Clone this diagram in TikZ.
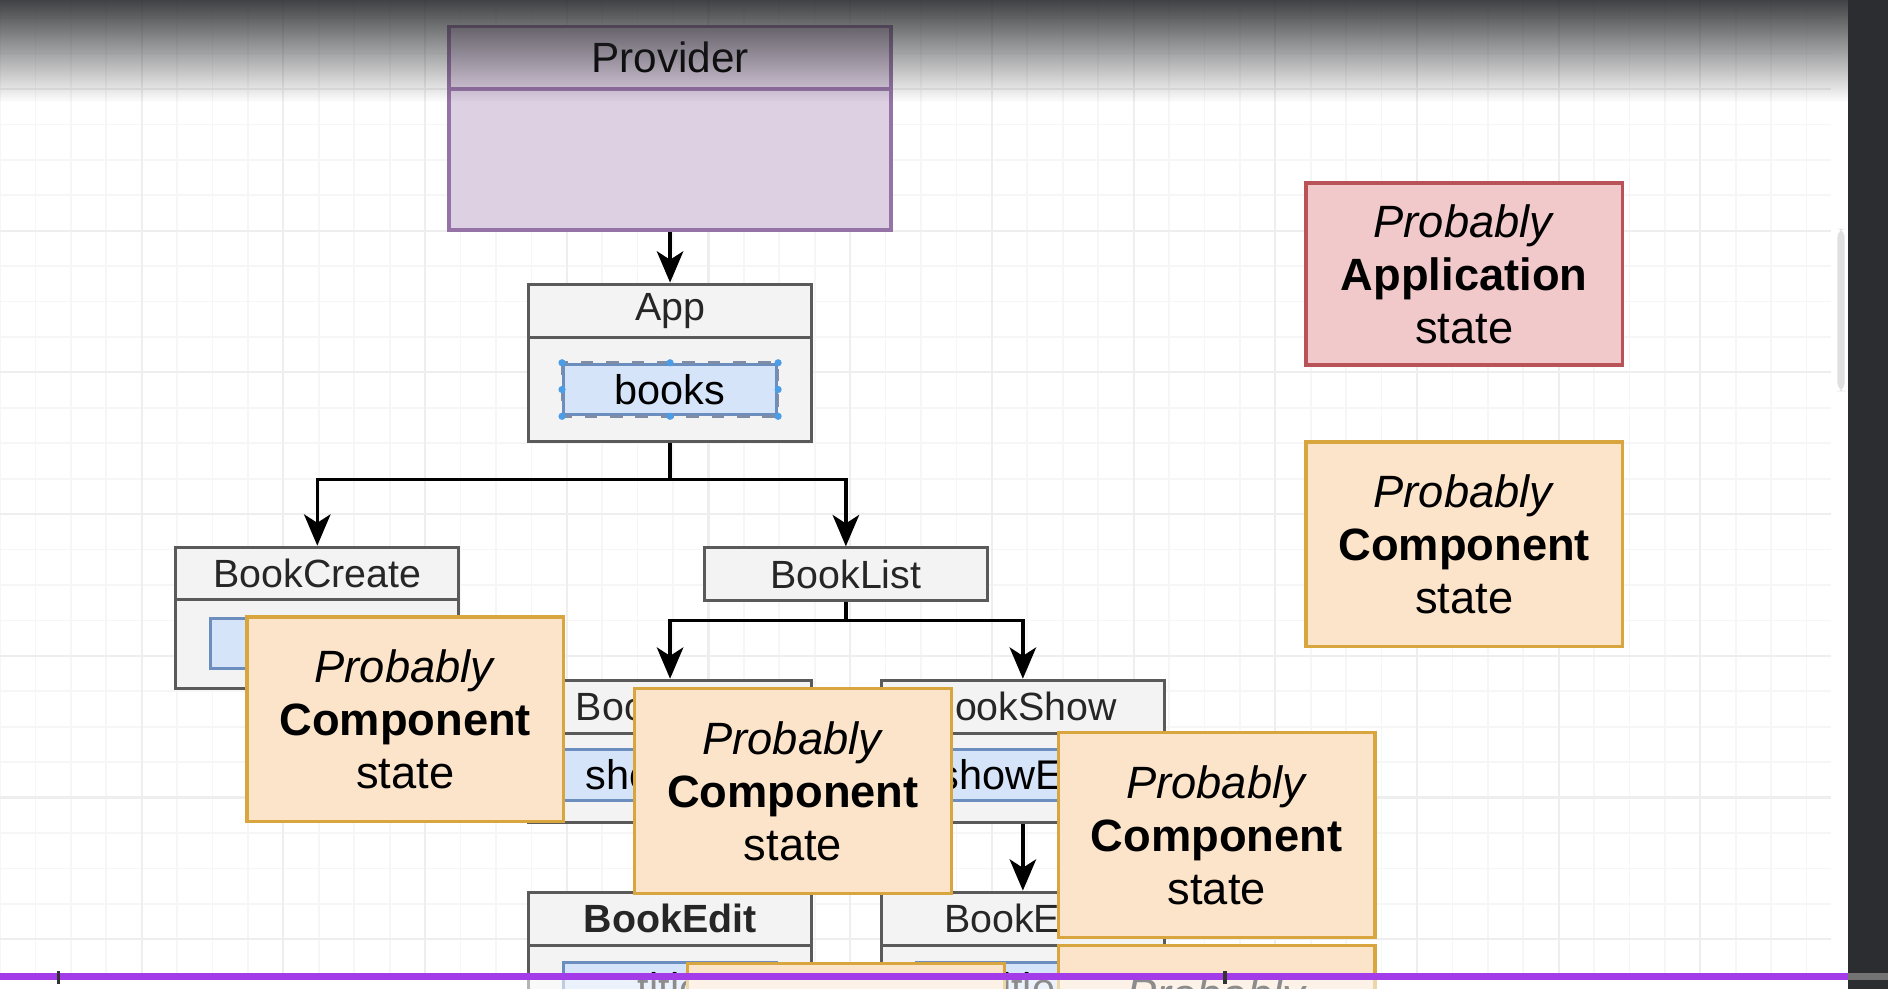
\documentclass[tikz,border=0pt]{standalone}
\usepackage{fontspec}
\setmainfont{Liberation Sans}
\usetikzlibrary{arrows.meta, fadings}

\definecolor{provfill}{HTML}{DDD0E3}
\definecolor{provline}{HTML}{9673A6}
\definecolor{compfill}{HTML}{F3F3F3}
\definecolor{compline}{HTML}{5A5A5A}
\definecolor{fieldfill}{HTML}{D6E4FA}
\definecolor{fieldline}{HTML}{6C8EBF}
\definecolor{orfill}{HTML}{FCE4CB}
\definecolor{orline}{HTML}{D9A53F}
\definecolor{redfill}{HTML}{F2C9CB}
\definecolor{redline}{HTML}{B85457}
\definecolor{gridminor}{HTML}{F6F6F6}
\definecolor{gridmajor}{HTML}{EEEEEE}
\definecolor{selblue}{HTML}{4A9DE6}
\definecolor{seldash}{HTML}{7F8CA6}
\definecolor{barpurple}{HTML}{A43BE8}
\definecolor{darkside}{HTML}{2C2D30}

\tikzfading[name=topfade, top color=transparent!10, bottom color=transparent!100]

\tikzset{
  provhead/.style={draw=provline, fill=provfill, line width=0.8pt, minimum width=36.7mm, minimum height=5.2mm, inner sep=0pt, font=\fontsize{10}{11}\selectfont},
  provbody/.style={draw=provline, fill=provfill, line width=0.8pt, minimum width=36.7mm, minimum height=11.7mm, inner sep=0pt},
  comphead/.style={draw=compline, fill=compfill, line width=0.75pt, minimum width=23.5mm, minimum height=4.4mm, inner sep=0pt, font=\fontsize{9.3}{11}\selectfont, text=black!85},
  compbody/.style={draw=compline, fill=compfill, line width=0.75pt, minimum width=23.5mm, inner sep=0pt},
  fieldbox/.style={draw=fieldline, fill=fieldfill, line width=0.7pt, minimum width=17.7mm, minimum height=4.2mm, inner sep=0pt, font=\fontsize{9.8}{11}\selectfont},
  statebox/.style={draw=orline, fill=orfill, line width=0.8pt, minimum width=26.3mm, minimum height=17mm, align=center, font=\fontsize{10.7}{12.5}\selectfont},
  appstatebox/.style={statebox, draw=redline, fill=redfill, minimum height=15.1mm},
  arr/.style={-{Stealth[length=2.6mm, width=2.2mm, inset=0.7mm]}, line width=0.8pt},
  gridthin/.style={gridminor, line width=0.4pt},
  gridthick/.style={gridmajor, line width=0.5pt}
}

\begin{document}
\begin{tikzpicture}[x=0.1mm, y=-0.1mm]
  \clip (0,0) rectangle (1568,821);
  \fill[white] (0,0) rectangle (1568,821);

  \foreach \gx in {0,...,51}
    \draw[gridthin] (29.42*\gx,0) -- (29.42*\gx,808);
  \foreach \gy in {0,...,26}
    \draw[gridthin] (0,15.1+29.42*\gy) -- (1521,15.1+29.42*\gy);
  \foreach \gx in {4,8,...,48}
    \draw[gridthick] (29.42*\gx,0) -- (29.42*\gx,808);
  \foreach \gy in {2,6,...,26}
    \draw[gridthick] (0,15.1+29.42*\gy) -- (1521,15.1+29.42*\gy);

  \fill[black!12, rounded corners=2] (1526,190) rectangle (1532,325);
  \fill[darkside] (1535,0) rectangle (1568,821);

  \node[provhead] (provider) at (556.5,48) {Provider};
  \node[provbody] (providerbody) at (556.5,132.5) {};

  \node[comphead] (app) at (556.5,258) {App};
  \node[compbody, minimum height=8.7mm] (appbody) at (556.5,323.5) {};
  \node[fieldbox] (books) at (556.5,323.5) {books};
  \draw[seldash, dashed, line width=0.6pt] (books.north west) rectangle (books.south east);
  \foreach \a in {north west, north, north east, east, south east, south, south west, west}
    \fill[selblue] (books.\a) circle (0.3mm);

  \node[comphead] (bookcreate) at (263.5,476.5) {BookCreate};
  \node[compbody, minimum height=7.4mm] (bookcreatebody) at (263.5,535) {};
  \node[fieldbox] (bookcreatefield) at (263.5,534.5) {};

  \node[comphead] (booklist) at (702.5,477) {BookList};

  \node[comphead] (showleft) at (556.5,587) {BookShow};
  \node[compbody, minimum height=7.4mm] (showleftbody) at (556.5,646) {};
  \node[fieldbox] (showleftfield) at (556.5,643.5) {showEdit};

  \node[comphead] (showright) at (849.5,587) {BookShow};
  \node[compbody, minimum height=7.4mm] (showrightbody) at (849.5,646) {};
  \node[fieldbox] (showrightfield) at (849.5,643.5) {showEdit};

  \node[comphead, font=\fontsize{9.3}{11}\selectfont\bfseries] (editleft) at (556.5,763) {BookEdit};
  \node[compbody, minimum height=9.5mm] (editleftbody) at (556.5,832.5) {};
  \node[fieldbox] (editleftfield) at (556.5,820.5) {title};

  \node[comphead] (editright) at (849.5,763) {BookEdit};
  \node[compbody, minimum height=9.5mm] (editrightbody) at (849.5,832.5) {};
  \node[fieldbox] (editrightfield) at (849.5,820.5) {title};

  \draw[arr] (providerbody) -- (app);
  \draw[arr] (appbody.south) -- ++(0,30) -| (bookcreate.north);
  \draw[arr] (appbody.south) -- ++(0,30) -| (booklist.north);
  \draw[arr] (booklist.south) -- ++(0,15) -| (showleft.north);
  \draw[arr] (booklist.south) -- ++(0,15) -| (showright.north);
  \draw[arr] (showleftbody) -- (editleft);
  \draw[arr] (showrightbody) -- (editright);

  \node[appstatebox] (legendapp) at (1216,227.5) {\textit{Probably}\\\textbf{Application}\\state};
  \node[statebox] (legendcomp) at (1216,452) {\textit{Probably}\\\textbf{Component}\\state};

  \node[statebox] (compstate1) at (336.5,597.5) {\textit{Probably}\\\textbf{Component}\\state};
  \node[statebox] (compstate2) at (658.5,657) {\textit{Probably}\\\textbf{Component}\\state};
  \node[statebox] (compstate3) at (1010.5,693.5) {\textit{Probably}\\\textbf{Component}\\state};
  \node[statebox] (compstate4) at (1010.5,870) {\textit{Probably}\\\textbf{Component}\\state};
  \node[statebox] (compstate5) at (702.5,885) {\textit{Probably}\\\textbf{Component}\\state};

  \fill[darkside, path fading=topfade] (0,0) rectangle (1568,85);

  \fill[barpurple] (0,808) rectangle (1535,814);
  \fill[black!55] (1535,808) rectangle (1568,814);
  \fill[white, opacity=0.55] (0,814) rectangle (1535,821);
  \fill[black!80] (47,806) rectangle (50,817);
  \fill[black!80] (1016,806) rectangle (1019,817);
\end{tikzpicture}
\end{document}
